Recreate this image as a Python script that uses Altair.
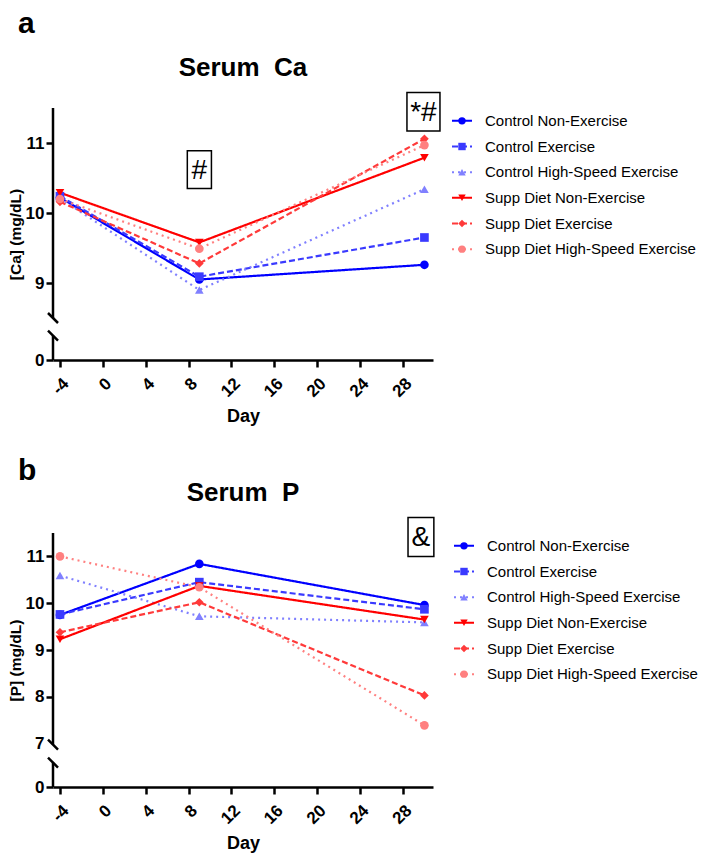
import altair as alt
import pandas as pd

FONT = "Liberation Sans"

# ---------------- data ----------------
series = ["Control Non-Exercise", "Control Exercise", "Control High-Speed Exercise",
          "Supp Diet Non-Exercise", "Supp Diet Exercise", "Supp Diet High-Speed Exercise"]
days = [-4, 9, 30]

ca_control_non = [10.22, 9.05, 9.26]
ca_control_ex = [10.24, 9.09, 9.65]
ca_control_hs = [10.21, 8.90, 10.34]
ca_supp_non = [10.29, 9.58, 10.79]
ca_supp_ex = [10.16, 9.28, 11.06]
ca_supp_hs = [10.20, 9.49, 10.97]

p_control_non = [9.75, 10.84, 9.96]
p_control_ex = [9.76, 10.45, 9.87]
p_control_hs = [10.59, 9.72, 9.59]
p_supp_non = [9.23, 10.37, 9.65]
p_supp_ex = [9.38, 10.02, 8.03]
p_supp_hs = [11.00, 10.34, 7.39]

x_ticks = [-4, 0, 4, 8, 12, 16, 20, 24, 28]
ca_y_ticks = [0, 9, 10, 11]
p_y_ticks = [0, 7, 8, 9, 10, 11]

# annotations: label, box left/right (day), box top/bottom (value)
ca_ann_text = ["#", "*#"]
ca_ann_x0 = [7.88, 28.37]
ca_ann_x1 = [10.13, 31.45]
ca_ann_y0 = [10.89, 11.72]
ca_ann_y1 = [10.35, 11.17]

p_ann_text = ["&"]
p_ann_x0 = [28.47]
p_ann_x1 = [30.88]
p_ann_y0 = [11.83]
p_ann_y1 = [11.00]

# ---------------- styles ----------------
colors = ["#0000ff", "#3a3aff", "#8080ff", "#ff0000", "#ff3a3a", "#ff8080"]
shapes = ["circle", "square", "triangle-up", "triangle-down", "diamond", "circle"]
dashes = [[1, 0], [6, 3], [2, 4], [1, 0], [6, 3], [2, 4]]

XMIN, XMAX = -4.65, 30.8
YMAX = 11.5
W = 380

color_scale = alt.Scale(domain=series, range=colors)
shape_scale = alt.Scale(domain=series, range=shapes)
dash_scale = alt.Scale(domain=series, range=dashes)


def make_df(lists):
    rows = []
    for name, vals in zip(series, lists):
        for d, v in zip(days, vals):
            rows.append({"series": name, "day": d, "value": v})
    return pd.DataFrame(rows)


def panel(lists, y_title, y_ticks, k, H, L, up_mark, low_mark, ann, title, hide_tick=None):
    upper_px = (YMAX - L) * k
    low_k = (H - upper_px) / L  # px per unit in lower segment
    xs = alt.Scale(domain=[XMIN, XMAX], nice=False, zero=False)
    ys = alt.Scale(domain=[0, L, YMAX], range=[H, upper_px, 0], nice=False, zero=False)

    df = make_df(lists)
    tick_op = 1
    if hide_tick is not None:
        tick_op = {"condition": {"test": f"datum.value === {hide_tick}", "value": 0}, "value": 1}

    xax = alt.Axis(values=x_ticks, title="Day", labelAngle=-45, labelAlign="right",
                   labelBaseline="top", labelFont=FONT, labelFontSize=17,
                   labelFontWeight="bold", labelColor="black", labelPadding=8,
                   labelExpr="'' + datum.value",
                   titleFont=FONT, titleFontSize=18, titleFontWeight="bold",
                   titleColor="black", titlePadding=8, domainColor="black",
                   domainWidth=2.5, tickColor="black", tickWidth=2.5, tickSize=7,
                   grid=False, labelOverlap=False)
    yax = alt.Axis(values=y_ticks, title=y_title, domain=False, labelFont=FONT,
                   labelFontSize=17, labelFontWeight="bold", labelColor="black",
                   labelPadding=2, titleFont=FONT, titleFontSize=15.5,
                   titleFontWeight="bold", titleColor="black", titlePadding=2,
                   tickColor="black", tickWidth=2.5, tickSize=7, tickOpacity=tick_op,
                   grid=False, labelOverlap=False)

    base = alt.Chart(df)
    lines = base.mark_line(strokeWidth=2.2).encode(
        x=alt.X("day:Q", scale=xs, axis=xax),
        y=alt.Y("value:Q", scale=ys, axis=yax),
        color=alt.Color("series:N", scale=color_scale, legend=None),
        strokeDash=alt.StrokeDash("series:N", scale=dash_scale, legend=None),
        detail="series:N",
    )
    pts = base.mark_point(filled=True, size=75, opacity=1).encode(
        x=alt.X("day:Q", scale=xs),
        y=alt.Y("value:Q", scale=ys),
        color=alt.Color("series:N", scale=color_scale, legend=None),
        shape=alt.Shape("series:N", scale=shape_scale, legend=None),
    )

    # broken y-axis line
    dx = 5.0 / (W / (XMAX - XMIN))
    up_dy = 5.0 / k
    low_dy = 5.0 / low_k
    axis_df = pd.DataFrame({"x": [XMIN, XMIN], "y": [up_mark, 0], "y2": [YMAX, low_mark]})
    axis_line = alt.Chart(axis_df).mark_rule(color="black", strokeWidth=2.5).encode(
        x=alt.X("x:Q", scale=xs), y=alt.Y("y:Q", scale=ys), y2="y2:Q")
    brk_df = pd.DataFrame({
        "x": [XMIN - dx, XMIN - dx], "x2": [XMIN + dx, XMIN + dx],
        "y": [up_mark + up_dy, low_mark + low_dy], "y2": [up_mark - up_dy, low_mark - low_dy]})
    brk = alt.Chart(brk_df).mark_rule(color="black", strokeWidth=2.5).encode(
        x=alt.X("x:Q", scale=xs), x2="x2:Q", y=alt.Y("y:Q", scale=ys), y2="y2:Q")

    text, x0, x1, y0, y1 = ann
    ann_df = pd.DataFrame({"t": text, "x0": x0, "x1": x1, "y0": y0, "y1": y1})
    ann_df["xc"] = (ann_df.x0 + ann_df.x1) / 2
    ann_df["yc"] = (ann_df.y0 + ann_df.y1) / 2
    boxes = alt.Chart(ann_df).mark_rect(fill="white", fillOpacity=0, stroke="black",
                                        strokeWidth=1.5).encode(
        x=alt.X("x0:Q", scale=xs), x2="x1:Q", y=alt.Y("y0:Q", scale=ys), y2="y1:Q")
    labels = alt.Chart(ann_df).mark_text(font=FONT, fontSize=28, color="black",
                                         baseline="middle", align="center", dy=1).encode(
        x=alt.X("xc:Q", scale=xs), y=alt.Y("yc:Q", scale=ys), text="t:N")

    plot = alt.layer(axis_line, brk, lines, pts, boxes, labels).properties(
        width=W, height=H,
        title=alt.TitleParams(title, font=FONT, fontSize=26, fontWeight="bold",
                              color="black", anchor="middle", frame="group",
                              baseline="alphabetic", offset=-10))
    return plot


def legend_chart():
    ldf = pd.DataFrame({"series": series, "row": list(range(len(series)))})
    lx = alt.Scale(domain=[0, 240], nice=False, zero=False)
    ly = alt.Scale(domain=[-0.5, len(series) - 0.5], reverse=True, nice=False, zero=False)
    base = alt.Chart(ldf)
    seg = base.transform_calculate(a="0", b="20").mark_rule(strokeWidth=2).encode(
        x=alt.X("a:Q", scale=lx, axis=None), x2="b:Q",
        y=alt.Y("row:Q", scale=ly, axis=None),
        color=alt.Color("series:N", scale=color_scale, legend=None),
        strokeDash=alt.StrokeDash("series:N", scale=dash_scale, legend=None))
    mk = base.transform_calculate(a="10").mark_point(filled=True, size=55, opacity=1).encode(
        x=alt.X("a:Q", scale=lx, axis=None),
        y=alt.Y("row:Q", scale=ly, axis=None),
        color=alt.Color("series:N", scale=color_scale, legend=None),
        shape=alt.Shape("series:N", scale=shape_scale, legend=None))
    tx = base.transform_calculate(a="33").mark_text(font=FONT, fontSize=15, align="left",
                                                    baseline="middle", color="black").encode(
        x=alt.X("a:Q", scale=lx, axis=None),
        y=alt.Y("row:Q", scale=ly, axis=None),
        text="series:N")
    return alt.layer(seg, mk, tx).properties(width=240, height=154)


ca_lists = [ca_control_non, ca_control_ex, ca_control_hs, ca_supp_non, ca_supp_ex, ca_supp_hs]
p_lists = [p_control_non, p_control_ex, p_control_hs, p_supp_non, p_supp_ex, p_supp_hs]

plot_a = panel(ca_lists, "[Ca] (mg/dL)", ca_y_ticks, k=70, H=252, L=8.37, up_mark=8.5,
               low_mark=6.2, ann=(ca_ann_text, ca_ann_x0, ca_ann_x1, ca_ann_y0, ca_ann_y1),
               title="Serum\u00a0\u00a0Ca")
plot_b = panel(p_lists, "[P] (mg/dL)", p_y_ticks, k=46.8, H=254, L=6.78, up_mark=6.98,
               low_mark=5.0, ann=(p_ann_text, p_ann_x0, p_ann_x1, p_ann_y0, p_ann_y1),
               title="Serum\u00a0\u00a0P", hide_tick=7)

letter = dict(font=FONT, fontSize=30, fontWeight="bold", color="black", anchor="start", dx=10)
panel_a = alt.hconcat(plot_a, legend_chart(), spacing=10,
                      title=alt.TitleParams("a", offset=16, **letter))
panel_b = alt.hconcat(plot_b, legend_chart(), spacing=18,
                      title=alt.TitleParams("b", offset=-6, **letter))

chart = alt.vconcat(panel_a, panel_b, spacing=29).properties(
    padding={"left": 0, "top": 0, "right": 0, "bottom": 0}, background="white"
).configure_view(stroke=None)

chart.save("out.html", embed_options={"renderer": "svg", "actions": False})
